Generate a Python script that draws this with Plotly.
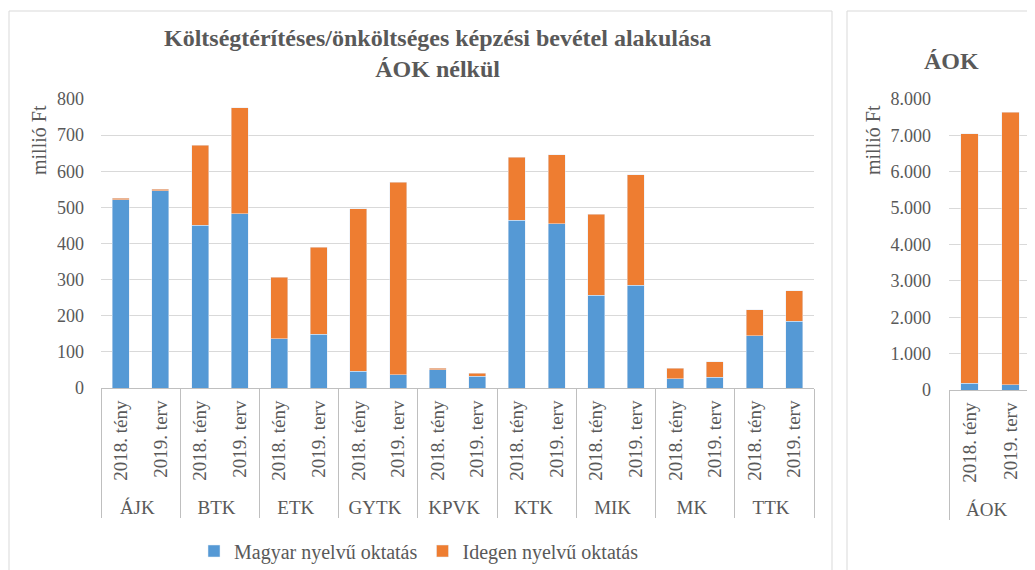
import plotly.graph_objects as go

# ---- data ----
groups = ["ÁJK", "BTK", "ETK", "GYTK", "KPVK", "KTK", "MIK", "MK", "TTK"]
periods = ["2018. tény", "2019. terv"]
magyar = [521, 546, 450, 482, 136, 149, 46, 37, 51, 32, 465, 454, 257, 284, 26, 30, 144, 185]
idegen = [4, 4, 222, 294, 170, 241, 450, 532, 4, 9, 174, 191, 224, 306, 28, 42, 73, 84]
aok_group = ["ÁOK"]
aok_magyar = [180, 140]
aok_idegen = [6870, 7490]
series_names = ["Magyar nyelvű oktatás", "Idegen nyelvű oktatás"]

BLUE = "#5599d5"
ORANGE = "#ee7d31"
TXT = "#595959"
GRID = "#d9d9d9"
FONT = "Liberation Serif"

outer = [g for g in groups for _ in periods]
inner = [p for _ in groups for p in periods]
aok_outer = [g for g in aok_group for _ in periods]
aok_inner = [p for _ in aok_group for p in periods]

fig = go.Figure()
fig.add_trace(go.Bar(x=[outer, inner], y=magyar, name=series_names[0],
                     marker_color=BLUE, xaxis="x", yaxis="y"))
fig.add_trace(go.Bar(x=[outer, inner], y=idegen, name=series_names[1],
                     marker_color=ORANGE, xaxis="x", yaxis="y"))
fig.add_trace(go.Bar(x=[aok_outer, aok_inner], y=aok_magyar, name=series_names[0],
                     marker_color=BLUE, xaxis="x2", yaxis="y2", showlegend=False))
fig.add_trace(go.Bar(x=[aok_outer, aok_inner], y=aok_idegen, name=series_names[1],
                     marker_color=ORANGE, xaxis="x2", yaxis="y2", showlegend=False))

W, H = 1035, 570
OFF = 8  # page body margin offset compensation
def px(v):
    return (v - OFF) / W
def py(v):
    return (H - (v - OFF)) / H

xcat = dict(type="multicategory", tickangle=-90, showline=True, linecolor="#bfbfbf",
            linewidth=1, showdividers=True, dividercolor="#bfbfbf", dividerwidth=1,
            tickfont=dict(family=FONT, size=19, color=TXT), showgrid=False,
            ticks="", fixedrange=True, automargin=False, ticklabelstandoff=4)

yax = dict(showgrid=True, gridcolor=GRID, gridwidth=1, zeroline=False, automargin=False,
           ticks="", showline=False, tickfont=dict(family=FONT, size=18, color=TXT))

fig.update_layout(
    width=W, height=H,
    margin=dict(l=0, r=0, t=0, b=0, pad=0, autoexpand=False),
    paper_bgcolor="white", plot_bgcolor="white",
    barmode="stack", bargap=0.57,
    separators=",.",
    font=dict(family=FONT, color=TXT, size=18),
    xaxis=dict(domain=[px(101), px(814)], anchor="y", **xcat),
    yaxis=dict(domain=[py(388), py(99)], range=[0, 800], dtick=100, anchor="x",
               ticklabelstandoff=16, **yax),
    xaxis2=dict(domain=[px(949), px(1031)], anchor="y2", **xcat),
    yaxis2=dict(domain=[py(390), py(99)], range=[0, 8000], dtick=1000, anchor="x2",
                tickformat=",.0f", ticklabelstandoff=17, **yax),
    legend=dict(orientation="h", x=px(419), xanchor="center", y=py(551), yanchor="middle",
                font=dict(family=FONT, size=20, color=TXT), traceorder="normal",
                itemwidth=30, bgcolor="rgba(0,0,0,0)"),
    shapes=[
        dict(type="rect", xref="paper", yref="paper", x0=px(9), x1=px(832),
             y0=-0.02, y1=py(11), line=dict(color=GRID, width=1), layer="below"),
        dict(type="rect", xref="paper", yref="paper", x0=px(847), x1=1.02,
             y0=-0.02, y1=py(11), line=dict(color=GRID, width=1), layer="below"),
    ],
    annotations=[
        dict(text="<b>Költségtérítéses/önköltséges képzési bevétel alakulása<br>ÁOK nélkül</b>",
             xref="paper", yref="paper", x=px(437), y=py(53), xanchor="center",
             yanchor="middle", showarrow=False,
             font=dict(family=FONT, size=24, color=TXT), align="center"),
        dict(text="<b>ÁOK</b>", xref="paper", yref="paper", x=px(951), y=py(61),
             xanchor="center", yanchor="middle",
             showarrow=False, font=dict(family=FONT, size=24, color=TXT)),
        dict(text="millió Ft", xref="paper", yref="paper", x=px(39), y=py(140),
             xanchor="center", yanchor="middle",
             showarrow=False, textangle=-90, font=dict(family=FONT, size=20, color=TXT)),
        dict(text="millió Ft", xref="paper", yref="paper", x=px(873), y=py(140),
             xanchor="center", yanchor="middle",
             showarrow=False, textangle=-90, font=dict(family=FONT, size=20, color=TXT)),
    ],
)

fig.write_html("out.html")
